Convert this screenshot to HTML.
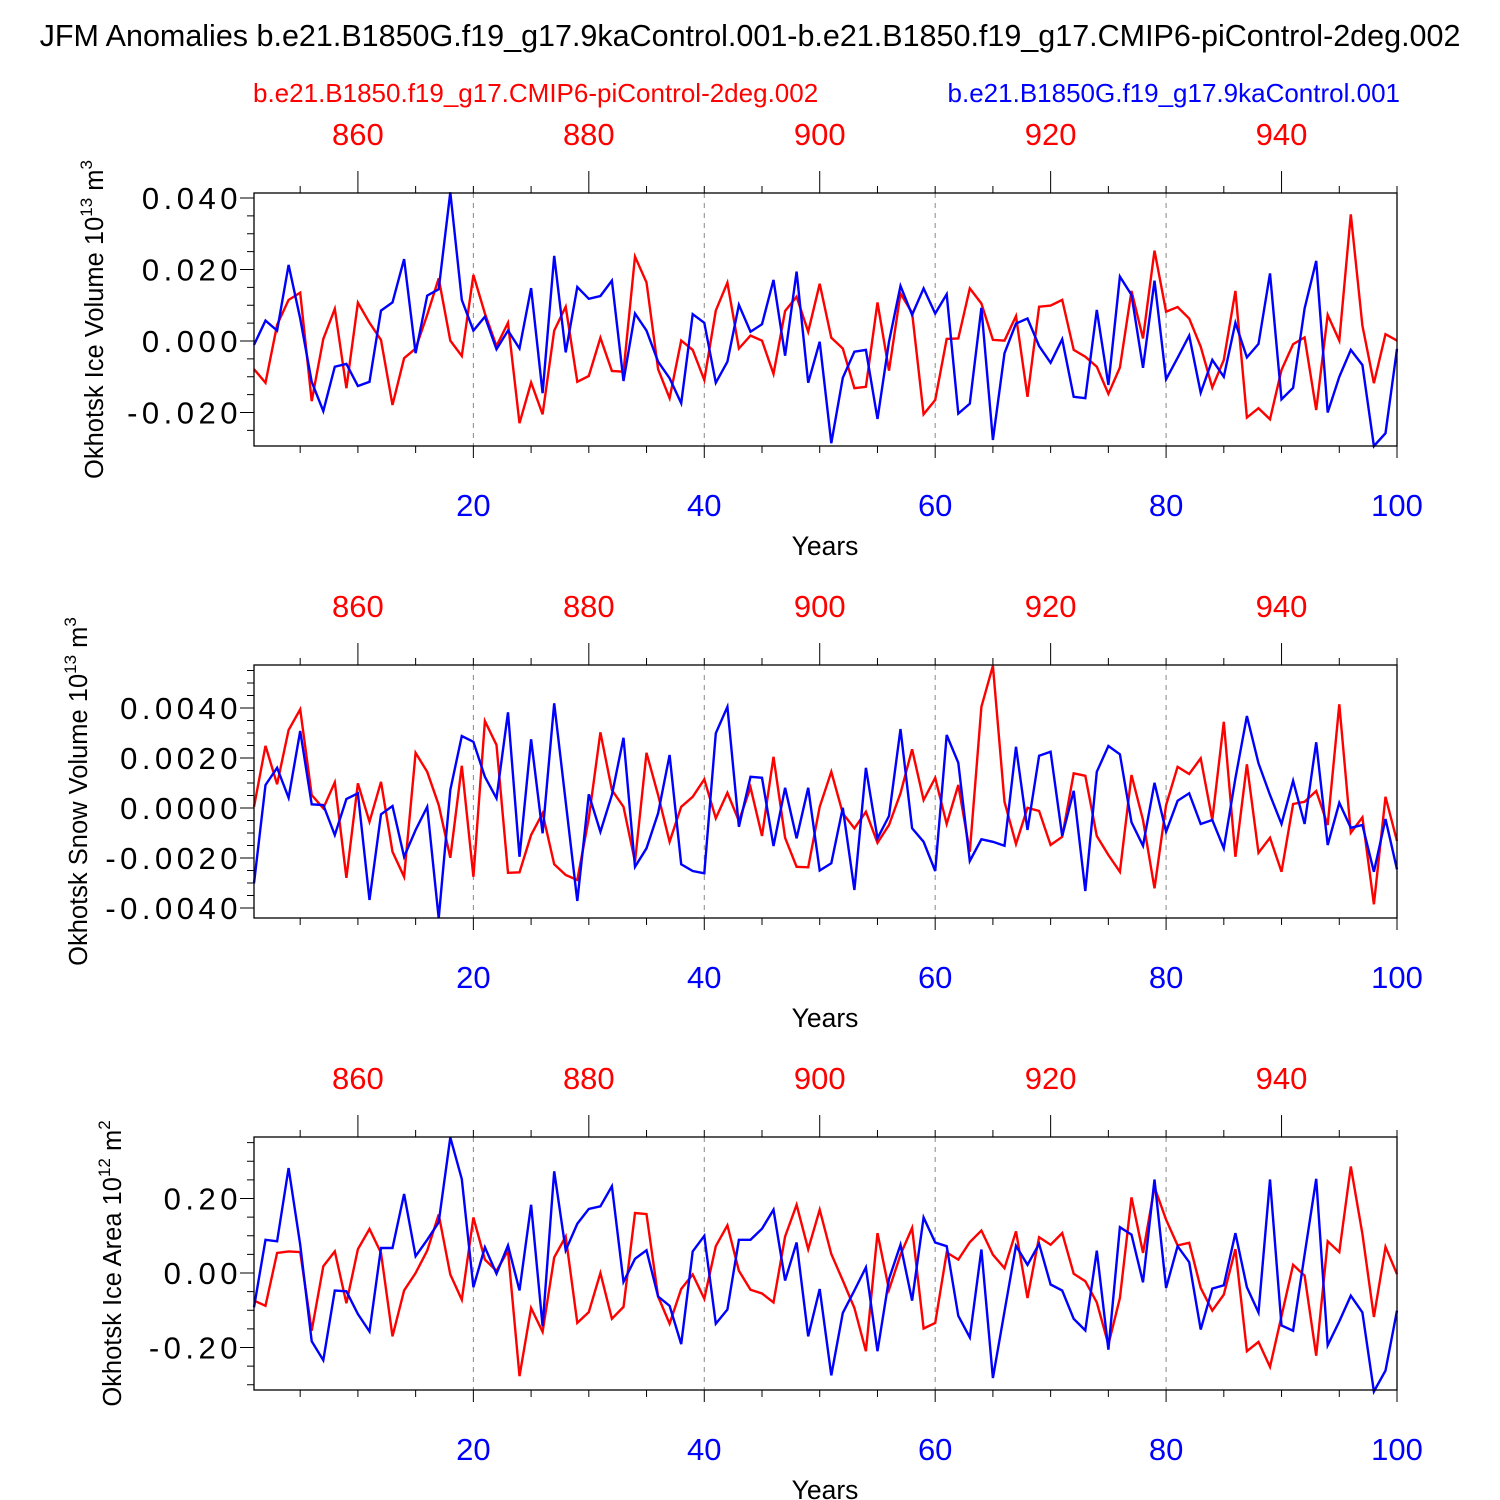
<!DOCTYPE html>
<html><head><meta charset="utf-8"><style>
html,body{margin:0;padding:0;background:#fff}
svg{display:block;font-family:"Liberation Sans",Arial,sans-serif}
</style></head><body>
<svg id="chart" width="1500" height="1500" viewBox="0 0 1500 1500" xmlns="http://www.w3.org/2000/svg">
<text x="750" y="46" font-size="30.5" text-anchor="middle">JFM Anomalies b.e21.B1850G.f19_g17.9kaControl.001-b.e21.B1850.f19_g17.CMIP6-piControl-2deg.002</text>
<text x="253" y="102" font-size="26" fill="#ff0000">b.e21.B1850.f19_g17.CMIP6-piControl-2deg.002</text>
<text x="1400" y="102" font-size="26" fill="#0000ff" text-anchor="end">b.e21.B1850G.f19_g17.9kaControl.001</text>
</svg>
<script>
const years = Array.from({length:100},(_,i)=>i+1);
const iceVolBlue=[-0.0011,0.0057,0.0029,0.0213,0.0063,-0.0114,-0.0196,-0.0072,-0.0064,-0.0126,-0.0114,0.0085,0.0108,0.0229,-0.0034,0.0127,0.0145,0.0416,0.0115,0.0029,0.0068,-0.0023,0.0029,-0.0021,0.0148,-0.0146,0.0238,-0.0032,0.0151,0.0118,0.0126,0.0169,-0.0112,0.0077,0.0029,-0.0058,-0.0104,-0.0174,0.0075,0.0051,-0.0117,-0.0058,0.0101,0.0026,0.0047,0.0171,-0.0041,0.0194,-0.0117,-0.0002,
-0.0286,-0.0103,-0.0030,-0.0025,-0.0218,-0.0002,0.0154,0.0073,0.0147,0.0077,0.0131,-0.0203,-0.0175,0.0093,-0.0277,-0.0034,0.0049,0.0063,-0.0014,-0.0061,0.0005,-0.0156,-0.0160,0.0087,-0.0123,0.0180,0.0129,-0.0075,0.0169,-0.0107,-0.0047,0.0015,-0.0145,-0.0053,-0.0100,0.0051,-0.0046,-0.0008,0.0189,-0.0163,-0.0131,0.0091,0.0224,-0.0200,-0.0100,-0.0025,-0.0067,-0.0294,-0.0258,-0.0022];
const iceVolRed=[-0.0079,-0.0117,0.0045,0.0115,0.0135,-0.0168,0.0006,0.0090,-0.0132,0.0107,0.0051,0.0003,-0.0179,-0.0048,-0.0021,0.0073,0.0175,0.0001,-0.0042,0.0185,0.0077,-0.0014,0.0051,-0.0230,-0.0116,-0.0205,0.0029,0.0096,-0.0114,-0.0098,0.0009,-0.0084,-0.0086,0.0236,0.0164,-0.0079,-0.0160,0.0001,-0.0025,-0.0109,0.0085,0.0163,-0.0021,0.0015,0.0001,-0.0092,0.0084,0.0124,0.0026,0.0160,
0.0009,-0.0021,-0.0132,-0.0128,0.0108,-0.0083,0.0133,0.0079,-0.0205,-0.0165,0.0006,0.0007,0.0147,0.0105,0.0003,0.0001,0.0070,-0.0156,0.0096,0.0099,0.0115,-0.0025,-0.0044,-0.0072,-0.0148,-0.0074,0.0140,0.0007,0.0253,0.0082,0.0095,0.0063,-0.0016,-0.0130,-0.0053,0.0140,-0.0214,-0.0188,-0.0219,-0.0081,-0.0009,0.0010,-0.0193,0.0073,0.0001,0.0354,0.0043,-0.0118,0.0019,0.0001];
const snowVolBlue=[-3.01,0.92,1.61,0.41,3.08,0.15,0.12,-1.08,0.36,0.59,-3.68,-0.25,0.08,-1.95,-0.88,0.05,-4.41,0.72,2.88,2.65,1.25,0.39,3.83,-1.95,2.75,-1.01,4.19,0.25,-3.72,0.55,-0.95,0.52,2.81,-2.35,-1.61,-0.21,2.12,-2.25,-2.52,-2.61,2.99,4.05,-0.75,1.25,1.21,-1.52,0.81,-1.21,0.81,-2.50,
-2.21,0.01,-3.28,1.61,-1.21,-0.32,3.16,-0.81,-1.35,-2.52,2.92,1.81,-2.12,-1.25,-1.35,-1.51,2.45,-0.88,2.09,2.25,-1.12,0.69,-3.32,1.45,2.48,2.15,-0.57,-1.51,1.01,-0.95,0.29,0.59,-0.64,-0.48,-1.61,1.19,3.68,1.79,0.52,-0.64,1.09,-0.64,2.63,-1.48,0.21,-0.79,-0.68,-2.55,-0.44,-2.45];
const snowVolRed=[0.05,2.49,0.95,3.12,3.95,0.52,-0.01,1.03,-2.79,0.99,-0.55,1.05,-1.75,-2.75,2.21,1.45,0.12,-1.99,1.69,-2.75,3.48,2.52,-2.59,-2.57,-1.08,-0.21,-2.25,-2.68,-2.88,-0.41,3.03,0.72,0.05,-2.15,2.21,0.52,-1.35,0.05,0.45,1.15,-0.41,0.61,-0.52,0.83,-1.12,2.05,-1.19,-2.35,-2.37,0.05,
1.45,-0.21,-0.81,-0.15,-1.39,-0.68,0.59,2.35,0.32,1.21,-0.64,0.92,-1.75,4.05,5.69,0.25,-1.44,0.01,-0.12,-1.48,-1.15,1.39,1.29,-1.12,-1.88,-2.55,1.32,-0.48,-3.21,0.12,1.65,1.36,1.99,-0.48,3.45,-1.95,1.75,-1.79,-1.19,-2.55,0.16,0.25,0.68,-0.68,4.15,-0.99,-0.37,-3.85,0.45,-1.32];
const iceAreaBlue=[-0.092,0.089,0.085,0.282,0.076,-0.183,-0.234,-0.047,-0.049,-0.110,-0.157,0.067,0.067,0.212,0.045,0.089,0.136,0.364,0.252,-0.038,0.069,-0.002,0.074,-0.047,0.183,-0.143,0.273,0.061,0.132,0.172,0.179,0.233,-0.024,0.038,0.061,-0.063,-0.088,-0.191,0.058,0.100,-0.136,-0.098,0.089,0.089,0.119,0.170,-0.020,0.082,-0.170,-0.043,
-0.275,-0.107,-0.047,0.015,-0.210,-0.016,0.076,-0.074,0.149,0.082,0.072,-0.115,-0.173,0.063,-0.282,-0.103,0.073,0.022,0.078,-0.031,-0.047,-0.123,-0.154,0.060,-0.206,0.123,0.103,-0.025,0.251,-0.040,0.072,0.029,-0.152,-0.042,-0.033,0.107,-0.038,-0.106,0.251,-0.141,-0.155,0.049,0.253,-0.194,-0.130,-0.061,-0.106,-0.318,-0.262,-0.101];
const iceAreaRed=[-0.074,-0.088,0.054,0.058,0.056,-0.155,0.018,0.058,-0.081,0.064,0.118,0.054,-0.170,-0.047,0.000,0.060,0.157,-0.004,-0.072,0.149,0.036,0.006,0.060,-0.277,-0.094,-0.158,0.042,0.098,-0.134,-0.105,0.000,-0.123,-0.091,0.161,0.158,-0.063,-0.136,-0.043,-0.004,-0.069,0.072,0.128,0.006,-0.045,-0.055,-0.079,0.098,0.183,0.064,0.170,
0.051,-0.020,-0.094,-0.210,0.107,-0.045,0.049,0.121,-0.149,-0.134,0.055,0.036,0.083,0.114,0.049,0.013,0.112,-0.067,0.096,0.076,0.107,-0.002,-0.022,-0.079,-0.192,-0.067,0.203,0.054,0.230,0.143,0.074,0.081,-0.040,-0.101,-0.058,0.064,-0.210,-0.185,-0.252,-0.116,0.022,-0.007,-0.222,0.085,0.056,0.286,0.105,-0.118,0.070,-0.003];
const bottomTicks=[20,40,60,80,100];
const topTickLabels=[860,880,900,920,940];
const yTicks1=[0.04,0.02,0,-0.02], yLabels1=["0.040","0.020","0.000","-0.020"];
const yTicks2=[4,2,0,-2,-4], yLabels2=["0.0040","0.0020","0.0000","-0.0020","-0.0040"];
const yTicks3=[0.2,0,-0.2], yLabels3=["0.20","0.00","-0.20"];

const NS="http://www.w3.org/2000/svg";
const svg=document.getElementById('chart');
const X0=254,X1=1397;
function xs(yr){return X0+(yr-1)*(X1-X0)/99;}
function mk(tag,attrs,parent){const e=document.createElementNS(NS,tag);for(const k in attrs)e.setAttribute(k,attrs[k]);(parent||svg).appendChild(e);return e;}

function panel(cfg){
  const g=mk('g',{});
  
  
  const T=cfg.top,B=cfg.top+253;
  const ys=v=>cfg.y0-(v)*cfg.k;
  [20,40,60,80].forEach(yr=>{
    const l=mk('line',{x1:xs(yr),x2:xs(yr),y1:T,y2:B,stroke:'#888','stroke-width':1,'stroke-dasharray':'5,5'},g);
    
    
  });
  for(let yr=5;yr<=100;yr+=5){
    const major=yr%20===0;
    mk('line',{x1:xs(yr),x2:xs(yr),y1:B,y2:B+(major?12:7),stroke:'#000','stroke-width':1},g);
    const topMajor=(yr%20===10);
    mk('line',{x1:xs(yr),x2:xs(yr),y1:T,y2:T-(topMajor?22:7),stroke:'#000','stroke-width':1},g);
  }
  bottomTicks.forEach(yr=>{
    const t=mk('text',{x:xs(yr),y:B+70,'font-size':31,'text-anchor':'middle',fill:'#0000ff'},g);
    t.textContent=yr;
    
    
  });
  topTickLabels.forEach(yr=>{
    const t=mk('text',{x:xs(yr-850),y:T-48,'font-size':31,'text-anchor':'middle',fill:'#ff0000'},g);
    t.textContent=yr;
    
    
  });
  const xt=mk('text',{x:825,y:B+109,'font-size':26.5,'text-anchor':'middle'},g);
  xt.textContent='Years';
  
  
  for(let v=cfg.minMinor;v<=cfg.maxMinor+1e-9;v+=cfg.minor){
    const y=ys(v); if(y<T-0.5||y>B+0.5) continue;
    mk('line',{x1:X0,x2:X0-7,y1:y,y2:y,stroke:'#000','stroke-width':1},g);
  }
  cfg.ticks.forEach((v,i)=>{
    const y=ys(v);
    mk('line',{x1:X0,x2:X0-14,y1:y,y2:y,stroke:'#000','stroke-width':1},g);
    const t=mk('text',{x:242,y:y+11,'font-size':31,'text-anchor':'end','letter-spacing':'4.5'},g);
    t.textContent=cfg.labels[i];
    
    
  });
  const yt=mk('text',{transform:`translate(${cfg.tx},${(T+B)/2}) rotate(-90)`,'font-size':25.5,'text-anchor':'middle'},g);
  yt.innerHTML=cfg.title+' 10<tspan font-size="17" dy="-11">'+cfg.exp+'</tspan><tspan dy="11"> m</tspan><tspan font-size="17" dy="-11">'+cfg.unitExp+'</tspan>';
  
  
  [[cfg.red,'#ff0000','red-series'],[cfg.blue,'#0000ff','blue-series']].forEach(([arr,col,nm])=>{
    const pts=arr.map((v,i)=>xs(years[i]).toFixed(1)+','+ys(v).toFixed(1)).join(' ');
    const p=mk('polyline',{points:pts,fill:'none',stroke:col,'stroke-width':2.4,'stroke-linejoin':'miter'},g);
    
    
  });
  const fr=mk('rect',{x:X0,y:T,width:X1-X0,height:B-T,fill:'none',stroke:'#000','stroke-width':1.3},g);
  
  
}

panel({name:'ice-volume-panel',top:193,y0:341,k:3575,ticks:yTicks1,labels:yLabels1,minor:0.005,minMinor:-0.03,maxMinor:0.045,
  title:'Okhotsk Ice Volume',exp:'13',unitExp:'3',tx:103,red:iceVolRed,blue:iceVolBlue});
panel({name:'snow-volume-panel',top:665,y0:808,k:25,ticks:yTicks2,labels:yLabels2,minor:0.5,minMinor:-5,maxMinor:6,
  title:'Okhotsk Snow Volume',exp:'13',unitExp:'3',tx:87,red:snowVolRed,blue:snowVolBlue});
panel({name:'ice-area-panel',top:1137,y0:1273,k:372.5,ticks:yTicks3,labels:yLabels3,minor:0.05,minMinor:-0.35,maxMinor:0.4,
  title:'Okhotsk Ice Area',exp:'12',unitExp:'2',tx:121,red:iceAreaRed,blue:iceAreaBlue});
</script>
</body></html>
